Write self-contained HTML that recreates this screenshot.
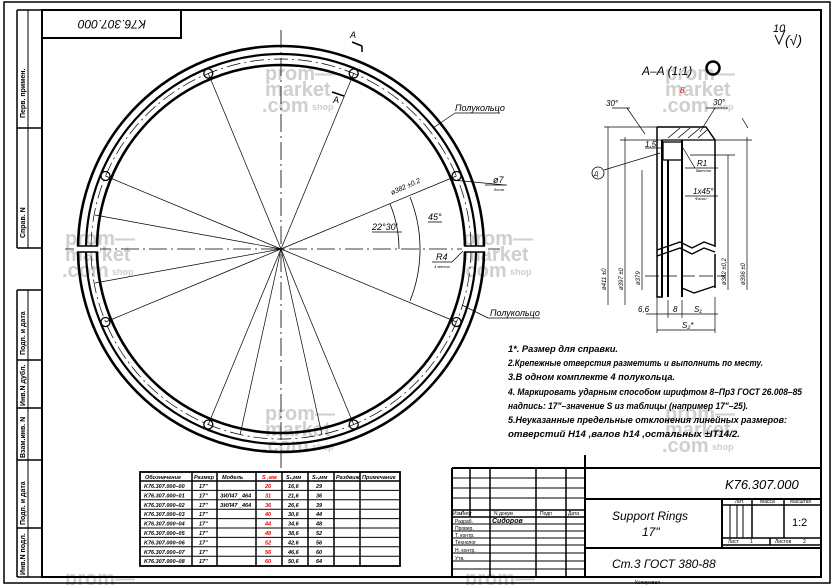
<!DOCTYPE html>
<html><head><meta charset="utf-8"><style>
html,body{margin:0;padding:0;background:#fff;width:835px;height:585px;overflow:hidden}
svg{display:block}
text{font-family:"Liberation Sans",sans-serif;fill:#000}
.it{font-style:italic}
.wm{fill:#cfcfcf;font-weight:bold;font-size:20px}
.wms{fill:#cfcfcf;font-weight:bold;font-size:9px}
</style></head><body>
<svg width="835" height="585" viewBox="0 0 835 585" xmlns="http://www.w3.org/2000/svg">
<g>
<text class="wm" x="265" y="80">prom—</text><text class="wm" x="265" y="96">market</text><text class="wm" x="262" y="112">.com</text><text class="wms" x="312" y="110">shop</text>
<text class="wm" x="65" y="245">prom—</text><text class="wm" x="65" y="261">market</text><text class="wm" x="62" y="277">.com</text><text class="wms" x="112" y="275">shop</text>
<text class="wm" x="463" y="245">prom—</text><text class="wm" x="463" y="261">market</text><text class="wm" x="460" y="277">.com</text><text class="wms" x="510" y="275">shop</text>
<text class="wm" x="265" y="420">prom—</text><text class="wm" x="265" y="436">market</text><text class="wm" x="262" y="452">.com</text><text class="wms" x="312" y="450">shop</text>
<text class="wm" x="665" y="80">prom—</text><text class="wm" x="665" y="96">market</text><text class="wm" x="662" y="112">.com</text><text class="wms" x="712" y="110">shop</text>
<text class="wm" x="665" y="420">prom—</text><text class="wm" x="665" y="436">market</text><text class="wm" x="662" y="452">.com</text><text class="wms" x="712" y="450">shop</text>
<text class="wm" x="65" y="585">prom—</text><text class="wm" x="465" y="585">prom—</text>
</g>
<rect x="4" y="2" width="826" height="581" fill="none" stroke="#000" stroke-width="1.5"/>
<rect x="42" y="10" width="779" height="567" fill="none" stroke="#000" stroke-width="2"/>
<line x1="17" y1="10" x2="17" y2="248" stroke="#000" stroke-width="1.5"/>
<line x1="28" y1="10" x2="28" y2="248" stroke="#000" stroke-width="1"/>
<line x1="17" y1="10" x2="42" y2="10" stroke="#000" stroke-width="1.5"/>
<line x1="17" y1="128" x2="42" y2="128" stroke="#000" stroke-width="1.5"/>
<line x1="17" y1="248" x2="42" y2="248" stroke="#000" stroke-width="1.5"/>
<line x1="17" y1="290" x2="17" y2="577" stroke="#000" stroke-width="1.5"/>
<line x1="28" y1="290" x2="28" y2="577" stroke="#000" stroke-width="1"/>
<g stroke="#000" stroke-width="1.5">
<line x1="17" y1="290" x2="42" y2="290"/><line x1="17" y1="360" x2="42" y2="360"/><line x1="17" y1="408" x2="42" y2="408"/><line x1="17" y1="460" x2="42" y2="460"/><line x1="17" y1="528" x2="42" y2="528"/><line x1="17" y1="577" x2="42" y2="577"/>
</g>
<g font-size="7" font-weight="bold">
<text transform="translate(25,118) rotate(-90)">Перв. примен.</text>
<text transform="translate(25,238) rotate(-90)">Справ. N</text>
<text transform="translate(25,355) rotate(-90)">Подп. и дата</text>
<text transform="translate(25,406) rotate(-90)">Инв.N дубл.</text>
<text transform="translate(25,458) rotate(-90)">Взам.инв. N</text>
<text transform="translate(25,525) rotate(-90)">Подп. и дата</text>
<text transform="translate(25,575) rotate(-90)">Инв.N подл.</text>
</g>
<rect x="42" y="10" width="139" height="28" fill="none" stroke="#000" stroke-width="2"/>
<text class="it" font-size="12" transform="translate(112,24) rotate(180)" text-anchor="middle" dy="4">K76.307.000</text>
<text class="it" x="773" y="32" font-size="11">10</text>
<path d="M775 35 l4 9 l6 -14" fill="none" stroke="#000"/>
<text class="it" x="785" y="45" font-size="14">(√)</text>

<g fill="none" stroke="#000">
<line x1="281" y1="30" x2="281" y2="470" stroke-width="0.8" stroke-dasharray="18,4,2,4"/>
<line x1="65" y1="249" x2="500" y2="249" stroke-width="0.8" stroke-dasharray="18,4,2,4"/>
<circle cx="281" cy="249" r="203" stroke-width="2.6"/>
<circle cx="281" cy="249" r="195" stroke-width="2.2"/>
<circle cx="281" cy="249" r="190" stroke-width="0.7" stroke-dasharray="14,4,2,4"/>
<circle cx="281" cy="249" r="184" stroke-width="2.6"/>
<rect x="74" y="246" width="26" height="6" fill="#fff" stroke="none"/>
<line x1="77" y1="246" x2="98" y2="246" stroke-width="1.5"/><line x1="77" y1="252" x2="98" y2="252" stroke-width="1.5"/>
<rect x="462" y="246" width="26" height="6" fill="#fff" stroke="none"/>
<line x1="464" y1="246" x2="485" y2="246" stroke-width="1.5"/><line x1="464" y1="252" x2="485" y2="252" stroke-width="1.5"/>
<g stroke-width="0.7">
<line x1="281" y1="249" x2="456.5" y2="176"/><line x1="281" y1="249" x2="456.5" y2="322"/>
<line x1="281" y1="249" x2="105.5" y2="176"/><line x1="281" y1="249" x2="105.5" y2="322"/>
<line x1="281" y1="249" x2="208.3" y2="73.5"/><line x1="281" y1="249" x2="353.7" y2="73.5"/>
<line x1="281" y1="249" x2="208.3" y2="424.5"/><line x1="281" y1="249" x2="353.7" y2="424.5"/>
<line x1="281" y1="249" x2="95" y2="215"/><line x1="281" y1="249" x2="95" y2="283"/>
<line x1="281" y1="249" x2="240" y2="435"/><line x1="281" y1="249" x2="322" y2="435"/>
</g>
<g stroke-width="1.3">
<circle cx="456.5" cy="176" r="4.5"/><circle cx="456.5" cy="322" r="4.5"/>
<circle cx="105.5" cy="176" r="4.5"/><circle cx="105.5" cy="322" r="4.5"/>
<circle cx="208.3" cy="73.5" r="4.5"/><circle cx="353.7" cy="73.5" r="4.5"/>
<circle cx="208.3" cy="424.5" r="4.5"/><circle cx="353.7" cy="424.5" r="4.5"/>
</g>
<path d="M399 249 A118 118 0 0 0 390 204" stroke-width="0.8"/>
<path d="M410 301 A140 140 0 0 0 410 197" stroke-width="0.8"/>
<line x1="433" y1="128" x2="455" y2="113" stroke-width="0.7"/><line x1="455" y1="113" x2="500" y2="113" stroke-width="0.8"/>
<line x1="462" y1="305" x2="488" y2="318" stroke-width="0.7"/><line x1="488" y1="318" x2="540" y2="318" stroke-width="0.8"/>
<line x1="452" y1="180" x2="505" y2="185" stroke-width="0.7"/><line x1="485" y1="185" x2="507" y2="185" stroke-width="0.8"/>
<line x1="463" y1="251" x2="452" y2="262" stroke-width="0.7"/><line x1="432" y1="262" x2="452" y2="262" stroke-width="0.8"/>
<line x1="372" y1="232" x2="402" y2="232" stroke-width="0.8"/>
<line x1="428" y1="222" x2="442" y2="222" stroke-width="0.8"/>
<line x1="352" y1="42" x2="362" y2="46" stroke-width="1.5"/><line x1="362" y1="46" x2="362" y2="52" stroke-width="1.5"/>
<line x1="332" y1="92" x2="344" y2="96" stroke-width="1.5"/>
</g>
<g class="it" font-size="9">
<text x="350" y="38" class="it">A</text>
<text x="333" y="103" class="it">A</text>
<text x="455" y="111" class="it">Полукольцо</text>
<text x="490" y="316" class="it">Полукольцо</text>
<text x="493" y="183" class="it">ø7</text>
<text x="494" y="191" font-size="4">8отв</text>
<text x="436" y="260" class="it">R4</text>
<text x="434" y="268" font-size="4">4 места</text>
<text x="372" y="230" class="it">22°30'</text>
<text x="428" y="220" class="it">45°</text>
<text transform="translate(392,195) rotate(-24)" font-size="7" class="it">ø382 ±0.2</text>
</g>

<text x="642" y="75" class="it" font-size="12">A–A (1:1)</text>
<circle cx="713" cy="68" r="6.5" fill="none" stroke="#000" stroke-width="2.5"/>
<text x="680" y="93" font-size="8" class="it" style="fill:#e00">8</text>
<g fill="none" stroke="#000">
<path d="M657 127 L706 127 L715 140 L715 247" stroke-width="1.5"/>
<path d="M657 127 L657 297 L663 297" stroke-width="1.5"/>
<line x1="662" y1="140" x2="662" y2="297" stroke-width="2"/>
<line x1="668" y1="160" x2="668" y2="297" stroke-width="2"/>
<line x1="682" y1="140" x2="682" y2="297" stroke-width="2"/>
<line x1="662" y1="140" x2="715" y2="140" stroke-width="1.3"/>
<rect x="663" y="142" width="19" height="18" stroke-width="1.3"/>
<path d="M657 250 l23 -8 l12 6 l12 -6 l11 4" stroke-width="1.3"/>
<path d="M657 256 l23 -8 l12 6 l12 -6 l11 4" stroke-width="1.3"/>
<path d="M682 288 l12 5 l21 -7" stroke-width="1.3"/>
<line x1="715" y1="254" x2="715" y2="288" stroke-width="1.5"/>
<g stroke-width="0.8"><line x1="668" y1="138" x2="680" y2="128"/><line x1="678" y1="138" x2="690" y2="128"/><line x1="688" y1="138" x2="700" y2="128"/><line x1="698" y1="138" x2="707" y2="130"/></g>
<line x1="645" y1="276" x2="725" y2="276" stroke-width="0.7" stroke-dasharray="14,4"/>
<g stroke-width="0.7">
<line x1="608" y1="127" x2="608" y2="305"/><line x1="625" y1="137" x2="625" y2="305"/><line x1="642" y1="170" x2="642" y2="290"/>
<line x1="728" y1="155" x2="728" y2="290"/><line x1="747" y1="137" x2="747" y2="290"/>
<line x1="604" y1="127" x2="657" y2="127"/><line x1="620" y1="140" x2="662" y2="140"/>
<line x1="715" y1="140" x2="752" y2="140"/><line x1="690" y1="155" x2="735" y2="155"/>
<line x1="657" y1="297" x2="657" y2="333"/><line x1="715" y1="297" x2="715" y2="333"/>
<line x1="646" y1="314" x2="718" y2="314"/><line x1="657" y1="330" x2="715" y2="330"/>
<line x1="668" y1="300" x2="668" y2="318"/><line x1="682" y1="300" x2="682" y2="318"/>
<line x1="627" y1="108" x2="645" y2="134"/><line x1="612" y1="108" x2="630" y2="108"/>
<line x1="715" y1="108" x2="700" y2="132"/><line x1="706" y1="108" x2="728" y2="108"/>
<line x1="604" y1="170" x2="660" y2="153"/>
<line x1="645" y1="148" x2="663" y2="148"/>
<line x1="685" y1="168" x2="718" y2="168"/><line x1="685" y1="196" x2="718" y2="196"/>
<line x1="683" y1="148" x2="695" y2="168"/>
<line x1="742" y1="118" x2="748" y2="128"/>
</g>
<circle cx="598" cy="173" r="6" stroke-width="0.8"/>
</g>
<g class="it" font-size="8">
<text x="606" y="106" class="it">30°</text>
<text x="713" y="105" class="it">30°</text>
<text x="645" y="147" class="it">1,5</text>
<text x="697" y="166" class="it">R1</text>
<text x="696" y="172" font-size="4">Вместо</text>
<text x="693" y="194" class="it">1x45°</text>
<text x="695" y="200" font-size="4">Фаски</text>
<text x="594" y="176" font-size="6">Д</text>
<text x="638" y="312" class="it">6,6</text>
<text x="673" y="312" class="it">8</text>
<text x="694" y="312" class="it">S₁</text>
<text x="682" y="328" class="it">S₂*</text>
<text transform="translate(606,290) rotate(-90)" font-size="6">ø411 ±0</text>
<text transform="translate(623,290) rotate(-90)" font-size="6">ø397 ±0</text>
<text transform="translate(640,285) rotate(-90)" font-size="6">ø379</text>
<text transform="translate(726,285) rotate(-90)" font-size="6">ø382 ±0,2</text>
<text transform="translate(745,285) rotate(-90)" font-size="6">ø396 ±0</text>
</g>

<g class="it" font-size="9.5" font-weight="bold">
<text x="508" y="352" textLength="110" lengthAdjust="spacingAndGlyphs">1*. Размер для справки.</text>
<text x="508" y="366" textLength="255" lengthAdjust="spacingAndGlyphs">2.Крепежные отверстия разметить и выполнить по месту.</text>
<text x="508" y="380" textLength="167" lengthAdjust="spacingAndGlyphs">3.В одном комплекте 4 полукольца.</text>
<text x="508" y="395" textLength="294" lengthAdjust="spacingAndGlyphs">4.  Маркировать ударным способом шрифтом 8–Пр3 ГОСТ 26.008–85</text>
<text x="508" y="409" textLength="240" lengthAdjust="spacingAndGlyphs">надпись: 17"–значение S из таблицы (например 17"–25).</text>
<text x="508" y="423" textLength="279" lengthAdjust="spacingAndGlyphs">5.Неуказанные предельные отклонения линейных размеров:</text>
<text x="508" y="437" textLength="232" lengthAdjust="spacingAndGlyphs">отверстий H14 ,валов h14 ,остальных ±IT14/2.</text>
</g>

<g stroke="#000" fill="none">
<rect x="140" y="472" width="260" height="94" stroke-width="1.8"/>
<line x1="140" y1="481" x2="400" y2="481" stroke-width="1.5"/>
<g stroke-width="1">
<line x1="140" y1="490.4" x2="400" y2="490.4"/><line x1="140" y1="499.8" x2="400" y2="499.8"/><line x1="140" y1="509.2" x2="400" y2="509.2"/><line x1="140" y1="518.6" x2="400" y2="518.6"/><line x1="140" y1="528" x2="400" y2="528"/><line x1="140" y1="537.4" x2="400" y2="537.4"/><line x1="140" y1="546.8" x2="400" y2="546.8"/><line x1="140" y1="556.2" x2="400" y2="556.2"/>
</g>
<g stroke-width="1.5">
<line x1="192" y1="472" x2="192" y2="566"/><line x1="217" y1="472" x2="217" y2="566"/><line x1="256" y1="472" x2="256" y2="566"/><line x1="282" y1="472" x2="282" y2="566"/><line x1="308" y1="472" x2="308" y2="566"/><line x1="334" y1="472" x2="334" y2="566"/><line x1="360" y1="472" x2="360" y2="566"/>
</g>
</g>
<g class="it" font-size="5.5" font-weight="bold">
<text x="145" y="479">Обозначение</text><text x="194" y="479">Размер</text><text x="222" y="479">Модель</text><text x="262" y="479" style="fill:#e00">S ,мм</text><text x="286" y="479">S₁,мм</text><text x="312" y="479">S₂,мм</text><text x="336" y="479">Раздвиж</text><text x="362" y="479">Примечание</text>
<text x="144" y="488">K76.307.000–00</text><text x="144" y="497.4">K76.307.000–01</text><text x="144" y="506.8">K76.307.000–02</text><text x="144" y="516.2">K76.307.000–03</text><text x="144" y="525.6">K76.307.000–04</text><text x="144" y="535">K76.307.000–05</text><text x="144" y="544.4">K76.307.000–06</text><text x="144" y="553.8">K76.307.000–07</text><text x="144" y="563.2">K76.307.000–08</text>
<text x="199" y="488">17"</text><text x="199" y="497.4">17"</text><text x="199" y="506.8">17"</text><text x="199" y="516.2">17"</text><text x="199" y="525.6">17"</text><text x="199" y="535">17"</text><text x="199" y="544.4">17"</text><text x="199" y="553.8">17"</text><text x="199" y="563.2">17"</text>
<text x="220" y="497.4">ЗИЛ47 _464</text><text x="220" y="506.8">ЗИЛ47 _464</text>
<text x="265" y="488" style="fill:#e00">26</text><text x="265" y="497.4" style="fill:#e00">31</text><text x="265" y="506.8" style="fill:#e00">36</text><text x="265" y="516.2" style="fill:#e00">40</text><text x="265" y="525.6" style="fill:#e00">44</text><text x="265" y="535" style="fill:#e00">48</text><text x="265" y="544.4" style="fill:#e00">52</text><text x="265" y="553.8" style="fill:#e00">56</text><text x="265" y="563.2" style="fill:#e00">60</text>
<text x="288" y="488">16,6</text><text x="288" y="497.4">21,6</text><text x="288" y="506.8">26,6</text><text x="288" y="516.2">30,6</text><text x="288" y="525.6">34,6</text><text x="288" y="535">38,6</text><text x="288" y="544.4">42,6</text><text x="288" y="553.8">46,6</text><text x="288" y="563.2">50,6</text>
<text x="316" y="488">29</text><text x="316" y="497.4">36</text><text x="316" y="506.8">39</text><text x="316" y="516.2">44</text><text x="316" y="525.6">48</text><text x="316" y="535">52</text><text x="316" y="544.4">56</text><text x="316" y="553.8">60</text><text x="316" y="563.2">64</text>
</g>

<g stroke="#000" fill="none">
<line x1="452" y1="468" x2="821" y2="468" stroke-width="2"/>
<line x1="452" y1="468" x2="452" y2="577" stroke-width="2"/>
<line x1="585" y1="455" x2="585" y2="577" stroke-width="2"/>
<line x1="585" y1="499" x2="821" y2="499" stroke-width="2"/>
<line x1="585" y1="548" x2="821" y2="548" stroke-width="2"/>
<line x1="722" y1="499" x2="722" y2="548" stroke-width="2"/>
<line x1="722" y1="505" x2="821" y2="505" stroke-width="1.5"/>
<line x1="722" y1="538" x2="821" y2="538" stroke-width="1.5"/>
<line x1="722" y1="545" x2="821" y2="545" stroke-width="1.5"/>
<line x1="752" y1="499" x2="752" y2="538" stroke-width="1.5"/>
<line x1="784" y1="499" x2="784" y2="538" stroke-width="1.5"/>
<line x1="730" y1="505" x2="730" y2="538" stroke-width="1"/><line x1="737" y1="505" x2="737" y2="538" stroke-width="1"/><line x1="743" y1="505" x2="743" y2="538" stroke-width="1"/>
<line x1="770" y1="538" x2="770" y2="545" stroke-width="1.5"/>
<g stroke-width="1.5">
<line x1="470" y1="468" x2="470" y2="517"/><line x1="490" y1="468" x2="490" y2="577"/><line x1="536" y1="468" x2="536" y2="577"/><line x1="566" y1="468" x2="566" y2="577"/>
<line x1="452" y1="478" x2="585" y2="478" stroke-width="1"/><line x1="452" y1="488" x2="585" y2="488" stroke-width="1"/><line x1="452" y1="498" x2="585" y2="498" stroke-width="1"/>
<line x1="452" y1="510" x2="585" y2="510"/><line x1="452" y1="517" x2="585" y2="517"/>
<line x1="452" y1="524" x2="585" y2="524" stroke-width="1"/><line x1="452" y1="531" x2="585" y2="531" stroke-width="1"/><line x1="452" y1="538" x2="585" y2="538" stroke-width="1"/><line x1="452" y1="545" x2="585" y2="545" stroke-width="1"/><line x1="452" y1="553" x2="585" y2="553" stroke-width="1"/><line x1="452" y1="561" x2="585" y2="561" stroke-width="1"/><line x1="452" y1="569" x2="585" y2="569" stroke-width="1"/>
</g>
</g>
<g font-size="5">
<text x="453" y="515">Изм</text><text x="461" y="515">Лист</text><text x="494" y="515">N докум</text><text x="540" y="515">Подп</text><text x="568" y="515">Дата</text>
<text x="455" y="523">Разраб.</text><text x="455" y="530">Провер.</text><text x="455" y="537">Т. контр.</text><text x="455" y="544">Технолог</text><text x="455" y="552">Н. контр.</text><text x="455" y="560">Утв.</text>
<text x="735" y="503">Лит.</text><text x="760" y="503">Масса</text><text x="790" y="503">Масштаб</text>
<text x="728" y="543">Лист</text><text x="750" y="543">1</text><text x="775" y="543">Листов</text><text x="803" y="543">2</text>
<text x="635" y="584">Копировал</text>
</g>
<text x="492" y="523" class="it" font-size="7" font-weight="bold">Сидоров</text>
<text x="725" y="489" class="it" font-size="13">K76.307.000</text>
<text x="612" y="520" class="it" font-size="12">Support Rings</text>
<text x="642" y="536" class="it" font-size="12">17"</text>
<text x="612" y="568" class="it" font-size="12">Ст.3 ГОСТ 380-88</text>
<text x="792" y="526" font-size="11">1:2</text>
</svg>
</body></html>
